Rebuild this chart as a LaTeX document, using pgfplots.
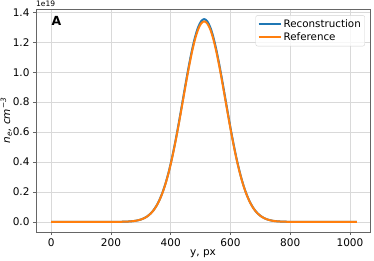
\documentclass[border=0pt]{standalone}
\usepackage{pgfplots}
\usepackage{pgfplotstable}
\pgfplotsset{compat=1.18}
\usepackage{fontspec}
\setmainfont{DejaVu Sans}
\definecolor{mplblue}{HTML}{1F77B4}
\definecolor{mplorange}{HTML}{FF7F0E}
\pgfplotstableread{
x rec ref
0 0 0
212 0.0002 0.0002
232 0.0006 0.0006
252 0.0017 0.0016
272 0.0045 0.0044
282 0.0071 0.0070
292 0.0112 0.0110
302 0.0171 0.0169
312 0.0256 0.0254
322 0.0377 0.0373
332 0.0545 0.0539
342 0.0771 0.0762
352 0.1070 0.1058
362 0.1454 0.1438
372 0.1939 0.1918
382 0.2535 0.2507
392 0.3248 0.3212
402 0.4080 0.4035
412 0.5026 0.4970
422 0.6068 0.6000
432 0.7182 0.7103
442 0.8335 0.8242
452 0.9482 0.9377
462 1.0574 1.0457
472 1.1562 1.1434
482 1.2393 1.2256
492 1.3023 1.2879
502 1.3416 1.3268
512 1.3550 1.3400
522 1.3416 1.3268
532 1.3023 1.2879
542 1.2393 1.2256
552 1.1562 1.1434
562 1.0574 1.0457
572 0.9482 0.9377
582 0.8335 0.8242
592 0.7182 0.7103
602 0.6068 0.6000
612 0.5026 0.4970
622 0.4080 0.4035
632 0.3248 0.3212
642 0.2535 0.2507
652 0.1939 0.1918
662 0.1454 0.1438
672 0.1070 0.1058
682 0.0771 0.0762
692 0.0545 0.0539
702 0.0377 0.0373
712 0.0256 0.0254
722 0.0171 0.0169
732 0.0112 0.0110
742 0.0071 0.0070
752 0.0045 0.0044
772 0.0017 0.0016
792 0.0006 0.0006
812 0.0002 0.0002
1023 0 0
}\datatable
\begin{document}
\begin{tikzpicture}
\useasboundingbox (-36pt,-29pt) rectangle (338pt,232pt);
\begin{axis}[
  at={(0,0)}, anchor=south west,
  scale only axis, width=334pt, height=223pt,
  xmin=-51, xmax=1067, ymin=-0.0677, ymax=1.4228,
  xtick={0,200,400,600,800,1000},
  ytick={0,0.2,0.4,0.6,0.8,1.0,1.2,1.4},
  yticklabel style={/pgf/number format/.cd, fixed, fixed zerofill, precision=1},
  xticklabel style={/pgf/number format/.cd, 1000 sep={}},
  /pgf/number format/assume math mode=true,
  scaled y ticks=false,
  ticklabel style={font=\fontsize{10.5}{11}\selectfont},
  tick align=outside, tick pos=left,
  major tick length=3pt,
  every tick/.style={gray!80!black, line width=0.5pt},
  axis line style={gray!80!black, line width=0.7pt},
  grid=major, major grid style={gray!30, line width=0.7pt},
  xlabel={y, px},
  ylabel={\textit{n}\textsubscript{\textit{e}}\textit{, cm}\textsuperscript{\textit{−3}}},
  label style={font=\fontsize{10.5}{12}\selectfont},
  xlabel style={yshift=4pt},
  ylabel style={yshift=-6pt},
  legend style={at={(0.985,0.972)}, anchor=north east, draw=gray!35, rounded corners=2pt,
    font=\fontsize{10.3}{12}\selectfont, inner sep=2pt, row sep=0pt, fill=white, fill opacity=0.8, text opacity=1,
    nodes={inner sep=2pt}},
  legend cell align=left,
  legend image code/.code={\draw[#1, line width=2pt] (0pt,0pt) -- (22pt,0pt);},
]
\addplot[mplblue, line width=2pt, smooth] table[x=x, y=rec] {\datatable};
\addlegendentry{Reconstruction}
\addplot[mplorange, line width=2pt, smooth] table[x=x, y=ref] {\datatable};
\addlegendentry{Reference}
\node[anchor=west, font=\bfseries\fontsize{12.5}{13}\selectfont, inner sep=0pt] at (rel axis cs:0.046,0.946) {A};
\end{axis}
\node[anchor=south west, font=\fontsize{7.5}{8}\selectfont, inner sep=0pt] at (0pt,225pt) {1e19};
\end{tikzpicture}
\end{document}
